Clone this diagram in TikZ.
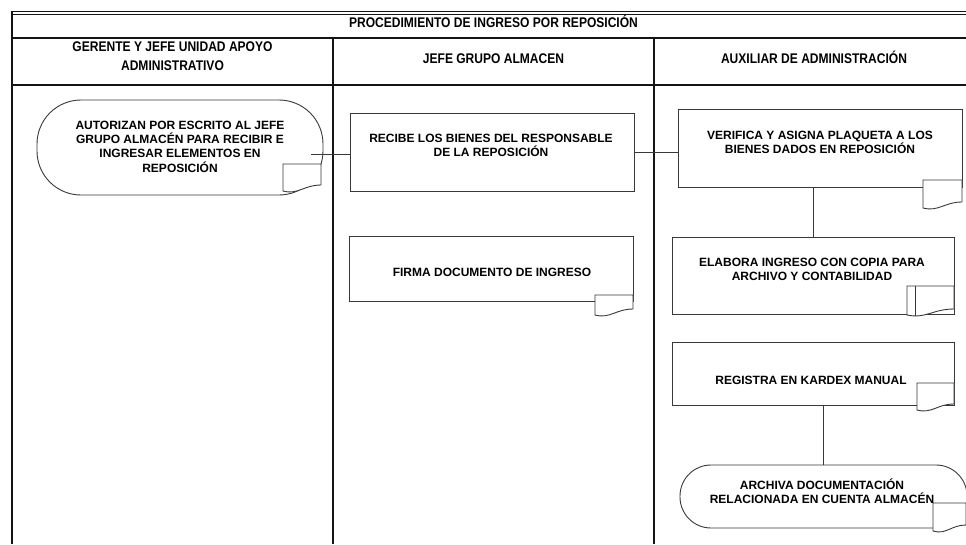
\documentclass[tikz,border=0pt]{standalone}
\usepackage{fontspec}
\setmainfont{Liberation Sans}
\newfontfamily\hdrfont[FakeStretch=0.86]{Liberation Sans Bold}
\definecolor{boxgray}{gray}{0.22}
\definecolor{tablecol}{gray}{0.08}
\newcommand\mydoc[4]{%
  \draw[docline] (#1,#2) -- (#3,#2) -- (#3,#4-6)
    .. controls (#1+0.55*#3-0.55*#1,#4-6) and (#1+0.4*#3-0.4*#1,#4+4) .. (#1,#4) -- cycle;}
\begin{document}
\begin{tikzpicture}[x=1pt,y=-1pt,
  tableline/.style={draw=tablecol,line width=1.2pt},
  stepbox/.style={draw=boxgray,line width=0.9pt,inner sep=0pt,outer sep=0pt,rectangle},
  termbox/.style={stepbox,rounded corners=#1},
  docline/.style={draw=boxgray,line width=0.9pt,fill=white},
  conn/.style={draw=boxgray,line width=0.9pt},
  bodytxt/.style={font=\bfseries\fontsize{12}{14.4}\selectfont,align=center,inner sep=0pt},
  hdrtxt/.style={font=\hdrfont\fontsize{14}{19}\selectfont,align=center,inner sep=0pt}]
\useasboundingbox (0,0) rectangle (966,544);
% table
\draw[tablecol,line width=0.9pt] (12,11.8) -- (966,11.8);
\draw[tablecol,line width=0.9pt] (12,14.3) -- (966,14.3);
\draw[tableline] (12,38) -- (966,38);
\draw[tableline] (12,85) -- (966,85);
\draw[tableline] (333,38) -- (333,544);
\draw[tableline] (654,38) -- (654,544);
\draw[tablecol,line width=2pt] (12,11.3) -- (12,544);
% headers
\node[hdrtxt,text height=10pt,text depth=0pt] (h0) at (493.5,22) {PROCEDIMIENTO DE INGRESO POR REPOSICIÓN};
\node[hdrtxt] (h1) at (172.5,56.5) {GERENTE Y JEFE UNIDAD APOYO\\ADMINISTRATIVO};
\node[hdrtxt,text height=10pt,text depth=0pt] (h2) at (493.5,58) {JEFE GRUPO ALMACEN};
\node[hdrtxt,text height=10pt,text depth=0pt] (h3) at (814,58) {AUXILIAR DE ADMINISTRACIÓN};
% boxes
\node[termbox=44pt,minimum width=286pt,minimum height=95pt] (n1) at (180,147.5) {};
\node[stepbox,minimum width=284pt,minimum height=78pt] (n2) at (492,152) {};
\node[stepbox,minimum width=284pt,minimum height=78pt] (n3) at (820,148) {};
\node[stepbox,minimum width=284pt,minimum height=65pt] (n4) at (491,268.5) {};
\node[stepbox,minimum width=282pt,minimum height=77pt] (n5) at (813,275.5) {};
\node[stepbox,minimum width=282pt,minimum height=63pt] (n6) at (813,373.5) {};
\node[termbox=31pt,minimum width=287pt,minimum height=63pt] (n7) at (823.5,496.5) {};
% connectors
\coordinate (c1) at (311,154);
\draw[conn] (c1) -- (c1 -| n2.west);
\draw[conn] (n2.east) -- (n2.east -| n3.west);
\draw[conn] (n5.north) -- (n5.north |- n3.south);
\draw[conn] (n7.north) -- (n7.north |- n6.south);
% document marks
\mydoc{283}{164}{321}{191}
\mydoc{923}{180}{962}{208}
\mydoc{595}{295}{633}{315}
\mydoc{907}{286}{954}{315}
\draw[conn] (915,286) -- (915,316);
\mydoc{917}{383}{954}{410}
\mydoc{933}{503}{966}{531}
% texts
\node[bodytxt] (t1) at (180,146.5) {AUTORIZAN POR ESCRITO AL JEFE\\GRUPO ALMACÉN PARA RECIBIR E\\INGRESAR ELEMENTOS EN\\REPOSICIÓN};
\node[bodytxt] (t2) at (491,145.5) {RECIBE LOS BIENES DEL RESPONSABLE\\DE LA REPOSICIÓN};
\node[bodytxt] (t3) at (820,142.5) {VERIFICA Y ASIGNA PLAQUETA A LOS\\BIENES DADOS EN REPOSICIÓN};
\node[bodytxt,text height=8.6pt,text depth=0pt] (t4) at (492,272) {FIRMA DOCUMENTO DE INGRESO};
\node[bodytxt] (t5) at (812,269.5) {ELABORA INGRESO CON COPIA PARA\\ARCHIVO Y CONTABILIDAD};
\node[bodytxt,text height=8.6pt,text depth=0pt] (t6) at (811,380) {REGISTRA EN KARDEX MANUAL};
\node[bodytxt] (t7) at (822,491) {ARCHIVA DOCUMENTACIÓN\\RELACIONADA EN CUENTA ALMACÉN};
\end{tikzpicture}
\end{document}
